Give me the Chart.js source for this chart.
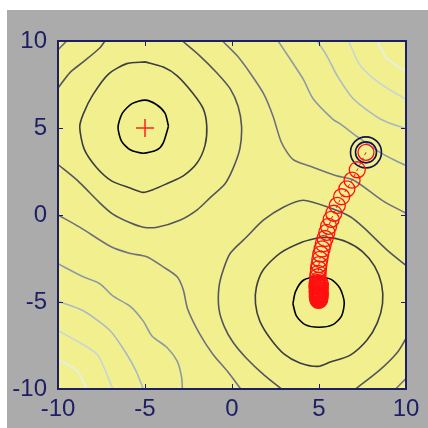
<!DOCTYPE html>
<html>
<head>
<meta charset="utf-8">
<script src="https://cdn.jsdelivr.net/npm/chart.js@4.4.1/dist/chart.umd.min.js"></script>
<style>
  html, body { margin: 0; padding: 0; background: #ffffff; }
  canvas { display: block; }
</style>
</head>
<body>
<canvas id="chart" width="428" height="428"></canvas>
<script>
// axis ticks
const tickValues = [-10, -5, 0, 5, 10];

// contour lines, [x, y] in data units, darkest level first
const ringNW1 = [[-3.65,5.1],[-3.85,5.85],[-4.35,6.35],[-5.0,6.6],[-5.75,6.4],[-6.3,5.85],[-6.55,5.05],[-6.35,4.25],[-5.85,3.75],[-5.1,3.55],[-4.3,3.75],[-3.95,4.15],[-3.65,5.1]];
const ringSE1 = [[3.5,-5.1],[3.65,-4.4],[4.1,-3.75],[4.9,-3.55],[5.7,-3.7],[6.2,-4.2],[6.45,-5.0],[6.3,-5.8],[5.8,-6.3],[5.0,-6.45],[4.2,-6.3],[3.7,-5.8],[3.5,-5.1]];

const ringNW2 = [[-5.0,8.8],[-3.95,8.5],[-3.15,8.0],[-2.25,7.0],[-1.65,6.1],[-1.45,5.1],[-1.55,4.0],[-2.0,3.0],[-2.8,2.25],[-3.75,1.8],[-4.55,1.45],[-5.1,1.3],[-5.85,1.55],[-6.9,1.95],[-7.8,2.75],[-8.5,3.8],[-8.75,5.05],[-8.55,5.8],[-8.0,6.9],[-7.1,8.1],[-6.05,8.7],[-5.0,8.8]];
const ringSE2 = [[5.0,-1.3],[5.65,-1.3],[6.6,-1.55],[7.5,-2.1],[8.2,-2.95],[8.6,-4.0],[8.65,-5.1],[8.35,-6.2],[7.75,-7.2],[6.8,-8.05],[5.65,-8.45],[4.95,-8.7],[3.9,-8.5],[3.0,-8.0],[2.2,-7.1],[1.6,-6.1],[1.35,-5.1],[1.4,-4.15],[1.8,-3.15],[2.75,-2.2],[4.05,-1.55],[5.0,-1.3]];

const ringNW3 = [[-10,2.9],[-8.9,2.0],[-7.6,0.7],[-6.85,0.05],[-5.85,-0.45],[-5.1,-0.7],[-4.3,-0.7],[-3.0,-0.3],[-2.0,0.3],[-1.25,1.0],[-0.4,1.8],[0.05,2.65],[0.45,3.8],[0.55,5.1],[0.35,6.25],[-0.1,7.25],[-0.85,8.15],[-1.85,9.15],[-2.85,10]];
const cornerNW3 = [[-10,7.3],[-9.3,8.2],[-8.55,8.8],[-7.6,9.6],[-7.3,10]];
const ringSE3 = [[10,-2.9],[8.9,-2.0],[7.6,-0.75],[6.8,-0.1],[5.65,0.4],[4.1,0.85],[2.95,0.45],[1.8,-0.3],[0.85,-1.25],[-0.1,-2.2],[-0.5,-3.15],[-0.75,-4.15],[-0.75,-5.4],[-0.45,-6.4],[0.05,-7.3],[0.8,-8.2],[1.85,-9.2],[2.85,-10]];
const cornerSE3 = [[10,-7.1],[9.5,-7.9],[8.5,-8.9],[7.1,-10]];

const curveSW4 = [[-10,0.0],[-8.75,-0.7],[-7.0,-1.8],[-5.9,-2.2],[-4.9,-2.4],[-4.0,-2.95],[-3.15,-3.55],[-2.8,-4.3],[-2.55,-5.4],[-1.85,-6.85],[-1.1,-8.0],[-0.25,-9.0],[0.5,-10]];
const curveNE4 = [[-0.55,10],[0.3,9.15],[1.05,8.15],[1.8,7.0],[2.35,5.7],[2.85,4.15],[3.5,3.2],[4.5,2.8],[6.0,2.25],[7.0,2.0],[8.7,0.8],[10,0.1]];
const cornerNW4 = [[-10,9.5],[-9.5,10]];
const cornerSE4 = [[9.4,-10],[10,-9.4]];

const curveSW5 = [[-10,-2.8],[-8.55,-3.55],[-7.6,-3.95],[-6.85,-4.65],[-5.85,-5.25],[-5.1,-6.1],[-4.6,-6.95],[-3.75,-7.6],[-3.15,-8.4],[-2.9,-9.3],[-2.85,-10]];
const curveNE5 = [[2.65,10],[3.35,8.95],[4.1,7.8],[4.65,6.7],[5.8,5.5],[6.2,5.25],[7.2,4.5],[8.5,3.6],[9.35,3.15],[10,2.85]];
const curveSW6 = [[-10,-4.95],[-8.55,-5.5],[-7.0,-6.65],[-6.05,-8.0],[-5.5,-9.0],[-5.1,-10]];
const curveNE6 = [[4.9,10],[5.45,9.15],[6.05,8.0],[7.0,6.65],[8.55,5.5],[10,4.95]];
const curveSW7 = [[-10,-6.65],[-8.9,-7.25],[-7.75,-8.0],[-7.3,-8.9],[-6.85,-10]];
const curveNE7 = [[6.7,10],[7.3,8.7],[8.0,7.95],[8.9,7.3],[10,6.65]];
const curveSW8 = [[-10,-8.3],[-8.9,-8.95],[-8.35,-10]];
const curveNE8 = [[8.35,10],[8.9,9.0],[10,8.25]];

// search path, start point first, then the tight cluster near the minimum
const pathX = [7.7, 7.2, 6.9, 6.6, 6.3, 6.05, 5.85, 5.7, 5.55, 5.45, 5.35, 5.25, 5.18, 5.1, 5.05, 5.0, 4.97, 4.95, 4.93, 4.95,
    4.90, 5.05, 4.92, 5.08, 4.95, 4.88, 5.03, 4.97, 5.07, 4.90, 5.00, 4.93, 5.06, 4.89, 5.02, 4.96, 5.08, 4.91, 5.04, 4.94,
    4.99, 5.06, 4.90, 5.01, 4.95, 5.05, 4.92, 4.98, 5.03, 4.96];
const pathY = [3.6, 2.6, 2.0, 1.5, 1.05, 0.55, 0.1, -0.25, -0.65, -1.0, -1.35, -1.65, -1.95, -2.25, -2.55, -2.85, -3.1, -3.35, -3.55, -3.75,
    -3.88, -3.92, -3.96, -4.0, -4.04, -4.08, -4.12, -4.16, -4.2, -4.24, -4.28, -4.32, -4.36, -4.4, -4.44, -4.48, -4.52, -4.55, -4.58, -4.61,
    -4.64, -4.67, -4.7, -4.73, -4.76, -4.79, -4.82, -4.85, -4.88, -4.9];

const startPoint = [7.7, 3.6];
const targetPoint = [-5, 5];

const levelColors = ['#000000', '#3d3d42', '#55555e', '#707080', '#8c9aa6', '#a9bac4', '#c6d5da', '#e4eeee'];
const contourLevels = [
    [ringNW1, ringSE1],
    [ringNW2, ringSE2],
    [ringNW3, cornerNW3, ringSE3, cornerSE3],
    [curveSW4, curveNE4, cornerNW4, cornerSE4],
    [curveSW5, curveNE5],
    [curveSW6, curveNE6],
    [curveSW7, curveNE7],
    [curveSW8, curveNE8]
];

const toPoints = pairs => pairs.map(p => ({x: p[0], y: p[1]}));

const datasets = [];

datasets.push({
    data: [{x: targetPoint[0], y: targetPoint[1]}],
    pointStyle: 'cross',
    pointRadius: 9,
    pointBorderColor: '#ff2020',
    pointBorderWidth: 1.5,
    showLine: false
});

datasets.push({
    data: pathX.map((x, i) => ({x: x, y: pathY[i]})),
    showLine: true,
    borderColor: '#ff1010',
    borderWidth: 1,
    borderDash: [3, 3],
    pointStyle: 'circle',
    pointRadius: 8,
    pointBorderColor: '#ff1010',
    pointBackgroundColor: 'rgba(0,0,0,0)',
    pointBorderWidth: 1.3
});

[10.5, 15.5].forEach(r => {
    datasets.push({
        data: [{x: startPoint[0], y: startPoint[1]}],
        pointStyle: 'circle',
        pointRadius: r,
        pointBorderColor: '#12124e',
        pointBackgroundColor: 'rgba(0,0,0,0)',
        pointBorderWidth: 1.6,
        showLine: false
    });
});

contourLevels.forEach((lines, level) => {
    lines.forEach(line => {
        datasets.push({
            data: toPoints(line),
            showLine: true,
            borderColor: levelColors[level],
            borderWidth: 1.6,
            tension: 0.25,
            pointRadius: 0
        });
    });
});

const navy = '#1e1e64';

const backdrop = {
    id: 'backdrop',
    beforeDraw(chart) {
        const ctx = chart.ctx;
        const a = chart.chartArea;
        ctx.save();
        ctx.fillStyle = '#ffffff';
        ctx.fillRect(0, 0, chart.width, chart.height);
        ctx.fillStyle = '#ababab';
        ctx.fillRect(7, 10, chart.width - 7, chart.height - 10);
        ctx.fillStyle = '#f2f08e';
        ctx.fillRect(a.left, a.top, a.right - a.left, a.bottom - a.top);
        ctx.restore();
    },
    afterDatasetsDraw(chart) {
        const ctx = chart.ctx;
        const a = chart.chartArea;
        const xs = chart.scales.x;
        const ys = chart.scales.y;
        ctx.save();
        ctx.strokeStyle = navy;
        ctx.lineWidth = 1;
        ctx.beginPath();
        tickValues.forEach(v => {
            const px = Math.round(xs.getPixelForValue(v)) + 0.5;
            ctx.moveTo(px, a.bottom);
            ctx.lineTo(px, a.bottom - 5);
            ctx.moveTo(px, a.top);
            ctx.lineTo(px, a.top + 5);
            const py = Math.round(ys.getPixelForValue(v)) + 0.5;
            ctx.moveTo(a.left, py);
            ctx.lineTo(a.left + 5, py);
            ctx.moveTo(a.right, py);
            ctx.lineTo(a.right - 5, py);
        });
        ctx.stroke();
        ctx.lineWidth = 2;
        ctx.strokeRect(a.left, a.top, a.right - a.left, a.bottom - a.top);
        ctx.restore();
    }
};

const tickFont = {family: '"Liberation Sans", Arial, sans-serif', size: 24};

new Chart(document.getElementById('chart'), {
    type: 'scatter',
    data: {datasets: datasets},
    options: {
        responsive: false,
        animation: false,
        devicePixelRatio: 1,
        layout: {padding: {left: 0, top: 41, right: 22, bottom: 0}},
        plugins: {legend: {display: false}, tooltip: {enabled: false}},
        scales: {
            x: {
                type: 'linear',
                min: -10,
                max: 10,
                afterFit: s => { s.height = 39; },
                afterBuildTicks: s => { s.ticks = tickValues.map(v => ({value: v})); },
                grid: {display: false, drawTicks: false},
                border: {display: false},
                ticks: {color: navy, font: tickFont, padding: 6, maxRotation: 0, autoSkip: false}
            },
            y: {
                type: 'linear',
                min: -10,
                max: 10,
                afterFit: s => { s.width = 58; },
                afterBuildTicks: s => { s.ticks = tickValues.map(v => ({value: v})); },
                grid: {display: false, drawTicks: false},
                border: {display: false},
                ticks: {color: navy, font: tickFont, padding: 11, autoSkip: false}
            }
        }
    },
    plugins: [backdrop]
});
</script>
</body>
</html>
